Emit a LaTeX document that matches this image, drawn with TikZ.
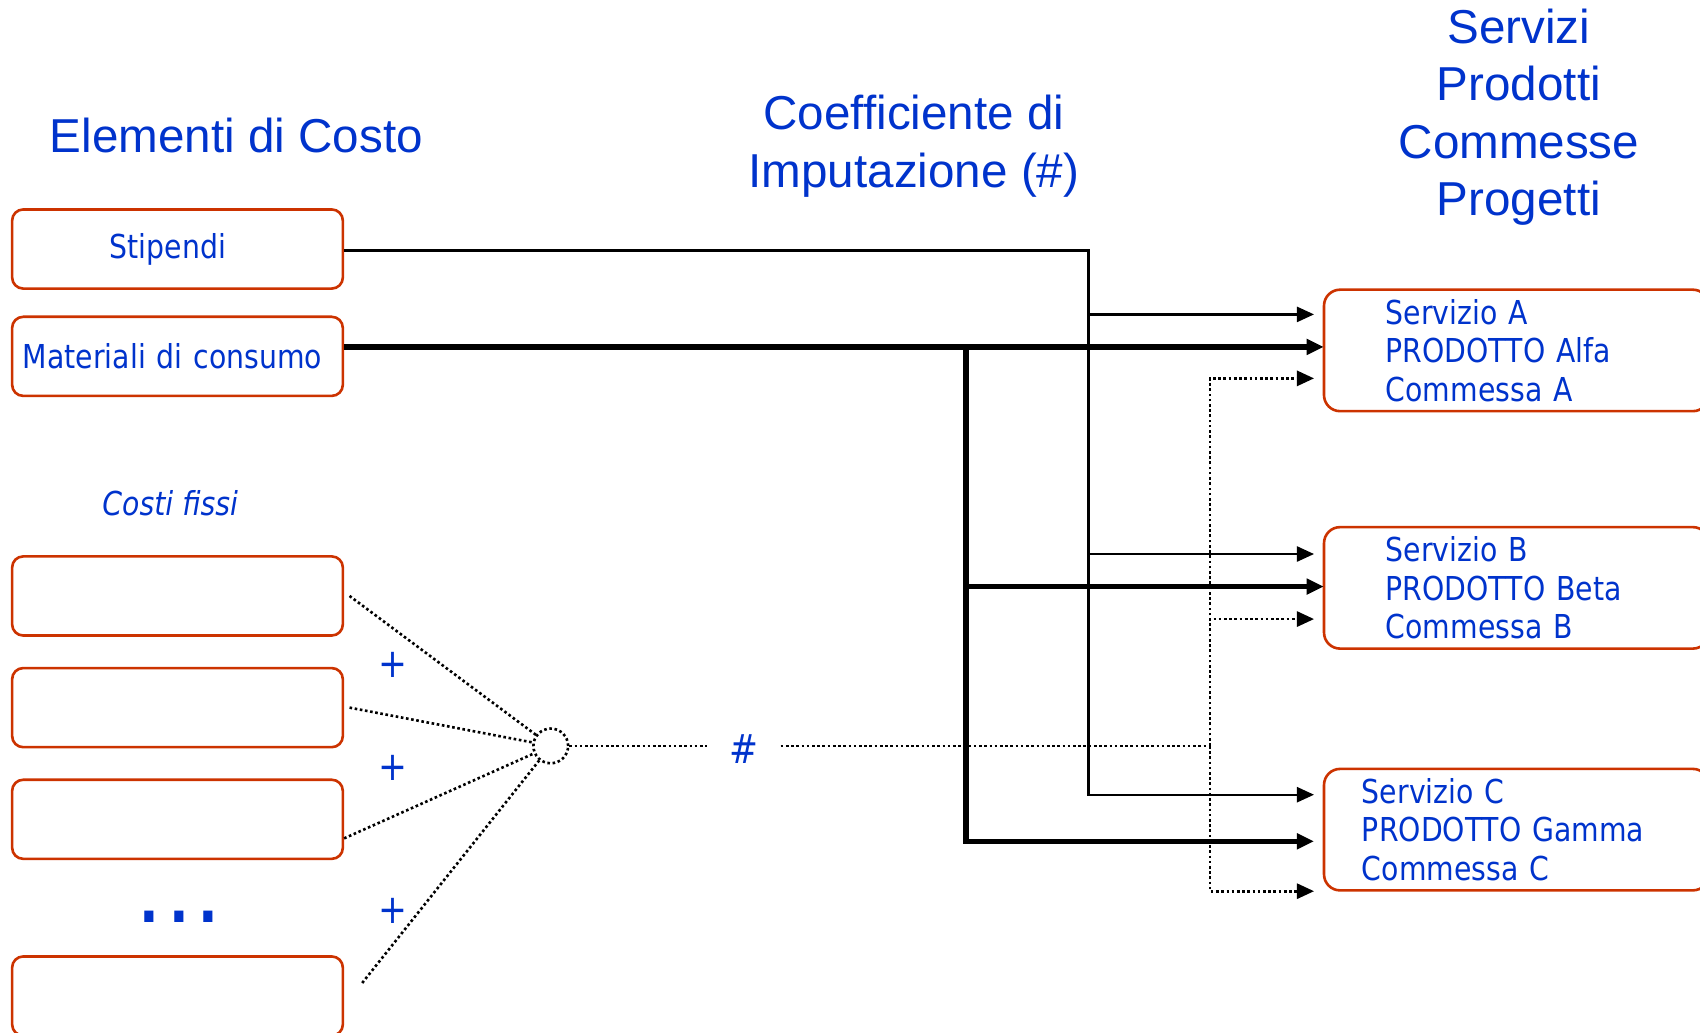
\documentclass[tikz,border=0pt]{standalone}
\usepackage{fontspec}
\setmainfont{Liberation Sans}
\newfontfamily\boxfont[FakeStretch=0.86]{DejaVu Sans}
\usepackage{tikz}
\usetikzlibrary{arrows.meta}
\definecolor{costblue}{HTML}{0033CC}
\definecolor{costred}{HTML}{CC3300}

\begin{document}
\begin{tikzpicture}[x=0.54pt, y=-0.54pt,
    title/.style={text=costblue, align=center, font=\fontsize{23.7pt}{28.6pt}\selectfont},
    costbox/.style={draw=costred, line width=1.3pt, rounded corners=5.5pt,
      minimum width=164.7pt, minimum height=39.4pt, inner ysep=0pt, anchor=north west,
      text=costblue, font=\boxfont\fontsize{16.4pt}{19.2pt}\selectfont},
    objbox/.style={draw=costred, line width=1.3pt, rounded corners=8pt,
      minimum width=191.7pt, minimum height=60.5pt, inner ysep=0pt, anchor=north west,
      align=left, text=costblue, font=\boxfont\fontsize{16.4pt}{19.2pt}\selectfont},
    sign/.style={text=costblue, font=\boxfont\fontsize{20pt}{20pt}\selectfont, inner sep=0pt},
    stipline/.style={line width=1.1pt},
    matline/.style={line width=2.6pt},
    fixline/.style={line width=1.3pt, dash pattern=on 1.3pt off 1.3pt},
    flow/.style={-{Triangle[length=8.5pt, width=7.5pt]}}
  ]
  \useasboundingbox (0,0) rectangle (1568,952);

  % column titles
  \node[title] (elem) at (218,125) {Elementi di Costo};
  \node[title] (coeff) at (843,135) {Coefficiente di\\Imputazione (\#)};
  \node[title] (serv) at (1401,108) {Servizi\\Prodotti\\Commesse\\Progetti};

  % cost elements
  \node[costbox, text width=67.5pt, inner xsep=48.6pt, align=left] (stip) at (10,192) {Stipendi};
  \node[costbox, text width=153.9pt, inner xsep=5.4pt, align=left] (mat) at (10,291) {Materiali di consumo};
  \node[text=costblue, font=\boxfont\itshape\fontsize{16.4pt}{19pt}\selectfont] (fissi) at (157,464) {Costi fissi};
  \node[costbox] (fix1) at (10,512) {};
  \node[costbox] (fix2) at (10,615) {};
  \node[costbox] (fix3) at (10,718) {};
  \node[text=costblue, font=\boxfont\bfseries\fontsize{30pt}{30pt}\selectfont] (more) at (165,846) {.\hspace{4.7pt}.\hspace{4.7pt}.};
  \node[costbox] (fix4) at (10,881) {};

  % services, products, orders
  \node[objbox, text width=130.1pt, inner xsep=30.8pt] (servA) at (1220,266) {Servizio A\\PRODOTTO Alfa\\Commessa A};
  \node[objbox, text width=130.1pt, inner xsep=30.8pt] (servB) at (1220,485) {Servizio B\\PRODOTTO Beta\\Commessa B};
  \node[objbox, text width=153.9pt, inner xsep=18.9pt] (servC) at (1220,708) {Servizio C\\PRODOTTO Gamma\\Commessa C};

  % sum of fixed costs
  \node[draw, circle, fixline, minimum size=17.3pt, inner sep=0pt] (sum) at (508,688) {};
  \node[sign] (plus1) at (362,613) {+};
  \node[sign] (plus2) at (362,708) {+};
  \node[sign] (plus3) at (362,840) {+};
  \node[sign, inner xsep=11pt] (hash) at (686,691) {\#};

  \coordinate (busS) at (1004,231);
  \coordinate (busM) at (891,320);
  \coordinate (busF) at (1116,688);
  \coordinate (inA1) at (1212,290);
  \coordinate (inA2) at (1221,320);
  \coordinate (inA3) at (1212,349);
  \coordinate (inB1) at (1212,511);
  \coordinate (inB2) at (1221,541);
  \coordinate (inB3) at (1212,571);
  \coordinate (inC1) at (1212,733);
  \coordinate (inC2) at (1212,776);
  \coordinate (inC3) at (1212,822);

  % Stipendi
  \draw[stipline, flow] (stip.east |- busS) -- (busS) |- (inC1);
  \draw[stipline, flow] (busS |- inA1) -- (inA1);
  \draw[stipline, flow] (busS |- inB1) -- (inB1);

  % Materiali di consumo
  \draw[matline, flow] (mat.east |- busM) -- (busM) |- (inC2);
  \draw[matline, flow] (busM) -- (inA2);
  \draw[matline, flow] (busM |- inB2) -- (inB2);

  % costi fissi
  \draw[fixline] ([xshift=2.7pt]fix1.east) -- (sum);
  \draw[fixline] ([xshift=2.7pt]fix2.east) -- (sum);
  \draw[fixline] ([yshift=-9.5pt]fix3.east) -- (sum);
  \draw[fixline] ([xshift=9pt, yshift=6.5pt]fix4.east) -- (sum);
  \draw[fixline] (sum) -- (sum -| hash.west);
  \draw[fixline] (hash.east |- sum) -- (busF);
  \draw[fixline, flow] (busF) |- (inA3);
  \draw[fixline, flow] (busF) |- (inB3);
  \draw[fixline, flow] (busF) |- (inC3);
\end{tikzpicture}
\end{document}
